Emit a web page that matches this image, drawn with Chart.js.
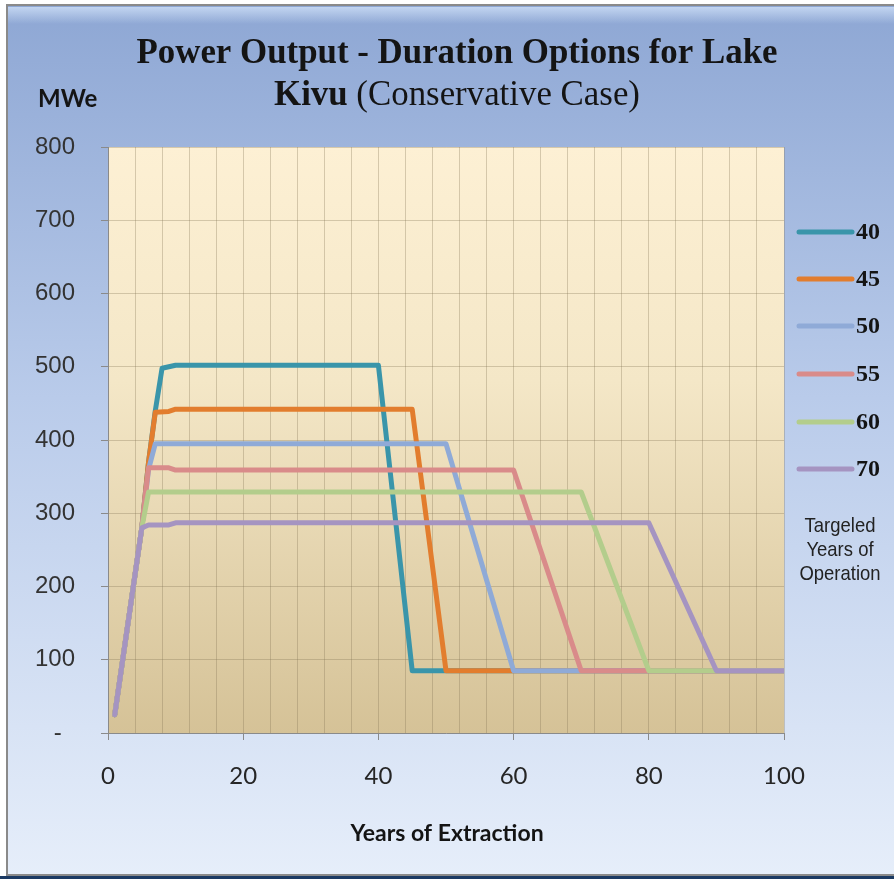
<!DOCTYPE html>
<html>
<head>
<meta charset="utf-8">
<script src="https://cdn.jsdelivr.net/npm/chart.js"></script>
<style>
  html, body { margin: 0; padding: 0; background: #fff; }
</style>
</head>
<body>
<canvas id="kivuChart" width="894" height="879"></canvas>
<script>
// targeted years of operation (legend labels) and line colours
const seriesLabels = ['40', '45', '50', '55', '60', '70'];
const seriesColors = ['#3a95aa', '#e27d2e', '#8faad7', '#d98b8a', '#b3cd8c', '#a594c1'];

// years of extraction / MWe, one pair of arrays per series
const years40 = [1, 5, 6, 7, 8, 10, 40, 45, 100];
const mwe40   = [25, 280, 370, 440, 498, 502, 502, 85, 85];
const years45 = [1, 5, 6, 7, 9, 10, 45, 50, 100];
const mwe45   = [25, 280, 370, 438, 439, 442, 442, 85, 85];
const years50 = [1, 5, 6, 7, 50, 60, 100];
const mwe50   = [25, 280, 360, 395, 395, 85, 85];
const years55 = [1, 5, 6, 9, 10, 60, 70, 100];
const mwe55   = [25, 280, 362, 362, 359, 359, 85, 85];
const years60 = [1, 5, 6, 70, 80, 100];
const mwe60   = [25, 280, 329, 329, 85, 85];
const years70 = [1, 5, 6, 9, 10, 80, 90, 100];
const mwe70   = [25, 280, 284, 284, 287, 287, 85, 85];

const seriesYears = [years40, years45, years50, years55, years60, years70];
const seriesMwe   = [mwe40, mwe45, mwe50, mwe55, mwe60, mwe70];

// axis ticks
const xTickLabels = [0, 20, 40, 60, 80, 100];
const yTickLabels = [0, 100, 200, 300, 400, 500, 600, 700, 800];

const titleLine1 = 'Power Output - Duration Options for Lake';
const titleLine2Bold = 'Kivu ';
const titleLine2 = '(Conservative Case)';
const yAxisTitle = 'MWe';
const xAxisTitle = 'Years of Extraction';
const legendNote = ['Targeled', 'Years of', 'Operation'];

const datasets = seriesLabels.map((lab, i) => ({
  label: lab,
  data: seriesYears[i].map((x, k) => ({ x: x, y: seriesMwe[i][k] })),
  borderColor: seriesColors[i],
  backgroundColor: seriesColors[i],
  order: -i   // later series drawn on top, like the original
}));

const frame = {
  id: 'frame',
  beforeDraw(chart) {
    const c = chart.ctx, W = chart.width, H = chart.height, a = chart.chartArea;
    c.save();
    c.fillStyle = '#fff';
    c.fillRect(0, 0, W, H);
    let g = c.createLinearGradient(0, 6, 0, 876);
    g.addColorStop(0, '#8ea7d4');
    g.addColorStop(0.45, '#b9cbea');
    g.addColorStop(1, '#e6eefa');
    c.fillStyle = g;
    c.fillRect(7, 6, W - 7, 870);
    g = c.createLinearGradient(0, 7, 0, 24);
    g.addColorStop(0, 'rgba(200,218,244,0.9)');
    g.addColorStop(1, 'rgba(200,218,244,0)');
    c.fillStyle = g;
    c.fillRect(8, 7, W - 8, 17);
    c.fillStyle = '#8a8a8a';
    c.fillRect(6, 4, W - 6, 2);
    c.fillRect(6, 4, 2, 872);
    c.fillRect(6, 874, W - 6, 2);
    c.fillStyle = '#1b3a63';
    c.fillRect(0, 876, W, 3);
    // plot area
    g = c.createLinearGradient(0, a.top, 0, a.bottom);
    g.addColorStop(0, '#fdf0d4');
    g.addColorStop(0.4, '#f4e7c7');
    g.addColorStop(1, '#d5c297');
    c.fillStyle = g;
    c.fillRect(a.left, a.top, a.right - a.left, a.bottom - a.top);
    c.restore();
  },
  afterDraw(chart) {
    const c = chart.ctx;
    c.save();
    // title, condensed like the original serif
    c.fillStyle = '#141414';
    c.textBaseline = 'alphabetic';
    c.font = 'bold 35px "Liberation Serif"';
    const w1 = c.measureText(titleLine1).width;
    const sx = 641 / w1;
    c.save();
    c.translate(457, 63);
    c.scale(sx, 1);
    c.textAlign = 'center';
    c.fillText(titleLine1, 0, 0);
    c.restore();
    const wb = c.measureText(titleLine2Bold).width;
    c.font = '35px "Liberation Serif"';
    const wn = c.measureText(titleLine2).width;
    c.save();
    c.translate(457 - (wb + wn) * sx / 2, 105);
    c.scale(sx, 1);
    c.textAlign = 'left';
    c.font = 'bold 35px "Liberation Serif"';
    c.fillText(titleLine2Bold, 0, 0);
    c.font = '35px "Liberation Serif"';
    c.fillText(titleLine2, wb, 0);
    c.restore();

    // axis titles
    c.font = 'bold 24px Lato';
    c.textAlign = 'left';
    c.fillText(yAxisTitle, 38, 107);
    c.font = 'bold 23px Lato';
    c.textAlign = 'center';
    c.fillText(xAxisTitle, 447, 841);

    // legend
    const ly = [232, 279, 326, 374, 422, 469];
    seriesLabels.forEach((lab, i) => {
      c.strokeStyle = seriesColors[i];
      c.lineWidth = 5;
      c.lineCap = 'round';
      c.beginPath();
      c.moveTo(799, ly[i]);
      c.lineTo(852, ly[i]);
      c.stroke();
      c.fillStyle = '#141414';
      c.font = 'bold 24px "Liberation Serif"';
      c.textAlign = 'left';
      c.textBaseline = 'middle';
      c.fillText(lab, 856, ly[i] + 1);
    });
    c.fillStyle = '#222';
    c.font = '21px "Liberation Sans"';
    c.textBaseline = 'middle';
    legendNote.forEach((t, k) => {
      c.save();
      c.translate(840, 526 + k * 24);
      c.scale(0.88, 1);
      c.textAlign = 'center';
      c.fillText(t, 0, 0);
      c.restore();
    });
    c.restore();
  }
};

new Chart(document.getElementById('kivuChart'), {
  type: 'line',
  data: { datasets: datasets },
  plugins: [frame],
  options: {
    responsive: false,
    animation: false,
    layout: { padding: { top: 147, right: 110, bottom: 60, left: 0 } },
    plugins: {
      legend: { display: false },
      tooltip: { enabled: false },
      title: { display: false }
    },
    elements: {
      point: { radius: 0 },
      line: { borderWidth: 5, tension: 0, borderJoinStyle: 'round', borderCapStyle: 'round' }
    },
    scales: {
      x: {
        type: 'linear',
        min: 0,
        max: 100,
        ticks: {
          stepSize: 4,
          autoSkip: false,
          maxRotation: 0,
          padding: 22,
          color: '#262626',
          font: { family: 'Lato', size: 24 },
          callback: v => xTickLabels.includes(v) ? String(v) : ''
        },
        grid: {
          color: 'rgba(130,115,85,0.32)',
          tickLength: 7,
          tickColor: ctx => (ctx.tick && xTickLabels.includes(ctx.tick.value)) ? '#8a8a8a' : 'rgba(0,0,0,0)'
        },
        border: { color: '#8a8a8a', width: 1 },
        afterFit: s => { s.height = 86; }
      },
      y: {
        min: 0,
        max: 800,
        ticks: {
          stepSize: 100,
          padding: 26,
          color: '#333',
          font: { family: 'Liberation Sans', size: 24 },
          callback: v => yTickLabels.includes(v) ? (v === 0 ? '-  ' : String(v)) : ''
        },
        grid: { color: 'rgba(130,115,85,0.32)', tickLength: 7, tickColor: '#8a8a8a' },
        border: { color: '#8a8a8a', width: 1 },
        afterFit: s => { s.width = 108; }
      }
    }
  }
});
</script>
</body>
</html>
